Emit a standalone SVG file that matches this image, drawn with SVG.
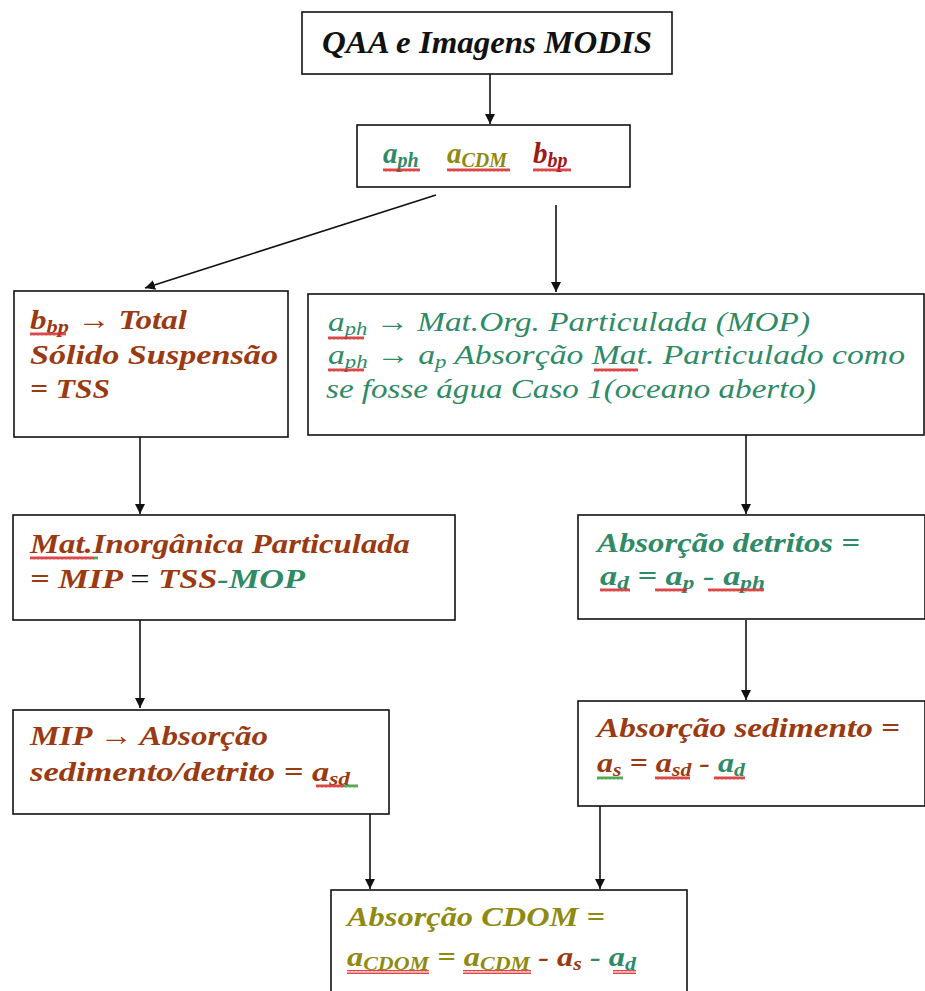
<svg xmlns="http://www.w3.org/2000/svg" width="925" height="991" viewBox="0 0 925 991">
<style>
.box{fill:#fff;stroke:#111;stroke-width:1.6}
.br{fill:#9a3a12}
.gr{fill:#2f8a68}
.ol{fill:#8f8a12}
.rd{fill:#9c1a1a}
.bk{fill:#111}
.con{stroke:#111;stroke-width:1.6;fill:none;marker-end:url(#ah)}
.wr{fill:url(#wvr)}
.wg{fill:url(#wvg)}
</style>
<defs>
<marker id="ah" markerWidth="10" markerHeight="12" refX="10" refY="5" orient="auto" markerUnits="userSpaceOnUse" viewBox="0 0 10 10">
<path d="M0,0 L10,5 L0,10 Z" fill="#111"/>
</marker>
<pattern id="wvr" width="4" height="4" patternUnits="userSpaceOnUse">
<path d="M0,3.5 L1,0.5 L2,3.5 L3,0.5 L4,3.5" stroke="#d42a2a" stroke-width="1" fill="none"/>
</pattern>
<pattern id="wvg" width="4" height="4" patternUnits="userSpaceOnUse">
<path d="M0,3.5 L1,0.5 L2,3.5 L3,0.5 L4,3.5" stroke="#3a9a3a" stroke-width="1" fill="none"/>
</pattern>
</defs>

<g id="connectors">
<line class="con" x1="490" y1="74" x2="490" y2="124"/>
<line class="con" x1="436" y1="195" x2="145" y2="288"/>
<line class="con" x1="556" y1="205" x2="556" y2="292"/>
<line class="con" x1="140" y1="437" x2="140" y2="514"/>
<line class="con" x1="746" y1="435" x2="746" y2="514"/>
<line class="con" x1="140" y1="620" x2="140" y2="708"/>
<line class="con" x1="746" y1="620" x2="746" y2="700"/>
<line class="con" x1="370" y1="785" x2="370" y2="889"/>
<line class="con" x1="600" y1="806" x2="600" y2="889"/>
</g>

<g id="n1">
<rect class="box" x="302" y="12" width="370" height="62"/>
<text class="bk" style="font-family:'Liberation Serif',serif;font-style:italic;font-weight:bold;font-size:32px" x="487" y="53" text-anchor="middle" textLength="330" lengthAdjust="spacingAndGlyphs">QAA e Imagens MODIS</text>
</g>

<g id="n2">
<rect class="box" x="357" y="125" width="273" height="62"/>
<text style="font-family:'Liberation Serif',serif;font-style:italic;font-weight:bold;font-size:29px" y="163"><tspan class="gr" x="383">a<tspan font-size="20" dy="4">ph</tspan></tspan><tspan class="ol" x="447" dy="-4">a<tspan font-size="20" dy="4">CDM</tspan></tspan><tspan class="rd" x="533" dy="-4">b<tspan font-size="20" dy="4">bp</tspan></tspan></text>
<rect class="wr" x="383" y="168" width="37" height="4"/>
<rect class="wr" x="447" y="168" width="63" height="4"/>
<rect class="wr" x="533" y="168" width="38" height="4"/>
</g>

<g id="n3">
<rect class="box" x="14" y="291" width="274" height="146"/>
<text class="br" style="font-family:'Liberation Serif',serif;font-style:italic;font-weight:bold;font-size:28px" x="30" y="329" textLength="157" lengthAdjust="spacingAndGlyphs">b<tspan font-size="19" dy="4">bp</tspan><tspan dy="-4"> → Total</tspan></text>
<text class="br" style="font-family:'Liberation Serif',serif;font-style:italic;font-weight:bold;font-size:28px" x="30" y="364" textLength="248" lengthAdjust="spacingAndGlyphs">Sólido Suspensão</text>
<text class="br" style="font-family:'Liberation Serif',serif;font-style:italic;font-weight:bold;font-size:28px" x="30" y="398" textLength="80" lengthAdjust="spacingAndGlyphs">= TSS</text>
<rect class="wr" x="30" y="332" width="36" height="4"/>
</g>

<g id="n4">
<rect class="box" x="308" y="294" width="616" height="141"/>
<text class="gr" style="font-family:'Liberation Serif',serif;font-style:italic;font-weight:normal;font-size:28px" x="328" y="331" textLength="482" lengthAdjust="spacingAndGlyphs">a<tspan font-size="19" dy="4">ph</tspan><tspan dy="-4" font-weight="bold"> →</tspan> Mat.Org. Particulada (MOP)</text>
<text class="gr" style="font-family:'Liberation Serif',serif;font-style:italic;font-weight:normal;font-size:28px" x="328" y="364" textLength="577" lengthAdjust="spacingAndGlyphs">a<tspan font-size="19" dy="4">ph</tspan><tspan dy="-4" font-weight="bold"> →</tspan> a<tspan font-size="19" dy="4">p</tspan><tspan dy="-4">  Absorção Mat. Particulado como</tspan></text>
<text class="gr" style="font-family:'Liberation Serif',serif;font-style:italic;font-weight:normal;font-size:28px" x="326" y="398" textLength="490" lengthAdjust="spacingAndGlyphs">se fosse água Caso 1(oceano aberto)</text>
<rect class="wr" x="328" y="336" width="36" height="4"/>
<rect class="wr" x="328" y="368" width="36" height="4"/>
<rect class="wr" x="594" y="368" width="44" height="4"/>
</g>

<g id="n5">
<rect class="box" x="13" y="515" width="442" height="105"/>
<text class="br" style="font-family:'Liberation Serif',serif;font-style:italic;font-weight:bold;font-size:28px" x="30" y="553" textLength="380" lengthAdjust="spacingAndGlyphs">Mat.Inorgânica Particulada</text>
<text class="br" style="font-family:'Liberation Serif',serif;font-style:italic;font-weight:bold;font-size:28px" x="30" y="588" textLength="275" lengthAdjust="spacingAndGlyphs">= MIP <tspan class="bk" font-style="normal" font-weight="normal">=</tspan> TSS<tspan class="gr">-MOP</tspan></text>
<rect class="wr" x="30" y="556" width="64" height="4"/>
<rect class="wg" x="94" y="556" width="4" height="4"/>
</g>

<g id="n6">
<rect class="box" x="578" y="515" width="347" height="104"/>
<text class="gr" style="font-family:'Liberation Serif',serif;font-style:italic;font-weight:bold;font-size:28px" x="597" y="552" textLength="263" lengthAdjust="spacingAndGlyphs">Absorção detritos =</text>
<text class="gr" style="font-family:'Liberation Serif',serif;font-style:italic;font-weight:bold;font-size:28px" x="600" y="585" textLength="165" lengthAdjust="spacingAndGlyphs">a<tspan font-size="19" dy="4">d</tspan><tspan dy="-4"> = a</tspan><tspan font-size="19" dy="4">p</tspan><tspan dy="-4"> - a</tspan><tspan font-size="19" dy="4">ph</tspan></text>
<rect class="wr" x="600" y="588" width="30" height="4"/>
<rect class="wr" x="655" y="588" width="32" height="4"/>
<rect class="wr" x="708" y="588" width="56" height="4"/>
</g>

<g id="n7">
<rect class="box" x="13" y="710" width="376" height="104"/>
<text class="br" style="font-family:'Liberation Serif',serif;font-style:italic;font-weight:bold;font-size:28px" x="30" y="745" textLength="238" lengthAdjust="spacingAndGlyphs">MIP → Absorção</text>
<text class="br" style="font-family:'Liberation Serif',serif;font-style:italic;font-weight:bold;font-size:28px" x="30" y="781" textLength="320" lengthAdjust="spacingAndGlyphs">sedimento/detrito = a<tspan font-size="19" dy="4">sd</tspan></text>
<rect class="wr" x="316" y="784" width="28" height="4"/>
<rect class="wg" x="344" y="784" width="14" height="4"/>
</g>

<g id="n8">
<rect class="box" x="578" y="701" width="347" height="105"/>
<text class="br" style="font-family:'Liberation Serif',serif;font-style:italic;font-weight:bold;font-size:28px" x="597" y="737" textLength="303" lengthAdjust="spacingAndGlyphs">Absorção sedimento =</text>
<text class="br" style="font-family:'Liberation Serif',serif;font-style:italic;font-weight:bold;font-size:28px" x="597" y="772" textLength="148" lengthAdjust="spacingAndGlyphs">a<tspan font-size="19" dy="4">s</tspan><tspan dy="-4"> = a</tspan><tspan font-size="19" dy="4">sd</tspan><tspan dy="-4"> - </tspan><tspan class="gr">a<tspan font-size="19" dy="4">d</tspan></tspan></text>
<rect class="wg" x="597" y="776" width="26" height="4"/>
<rect class="wr" x="655" y="776" width="35" height="4"/>
<rect class="wr" x="714" y="776" width="31" height="4"/>
</g>

<g id="n9">
<rect class="box" x="331" y="890" width="356" height="110"/>
<text class="ol" style="font-family:'Liberation Serif',serif;font-style:italic;font-weight:bold;font-size:28px" x="347" y="926" textLength="258" lengthAdjust="spacingAndGlyphs">Absorção CDOM =</text>
<text style="font-family:'Liberation Serif',serif;font-style:italic;font-weight:bold;font-size:28px" x="347" y="966" textLength="289" lengthAdjust="spacingAndGlyphs"><tspan class="ol">a<tspan font-size="19" dy="4">CDOM</tspan><tspan dy="-4"> = a</tspan><tspan font-size="19" dy="4">CDM</tspan></tspan><tspan class="br" dy="-4"> - a<tspan font-size="19" dy="4">s</tspan></tspan><tspan class="gr" dy="-4"> - a<tspan font-size="19" dy="4">d</tspan></tspan></text>
<rect class="wr" x="347" y="970" width="82" height="4"/>
<rect class="wr" x="463" y="970" width="68" height="4"/>
<rect class="wr" x="613" y="970" width="23" height="4"/>
</g>
</svg>
